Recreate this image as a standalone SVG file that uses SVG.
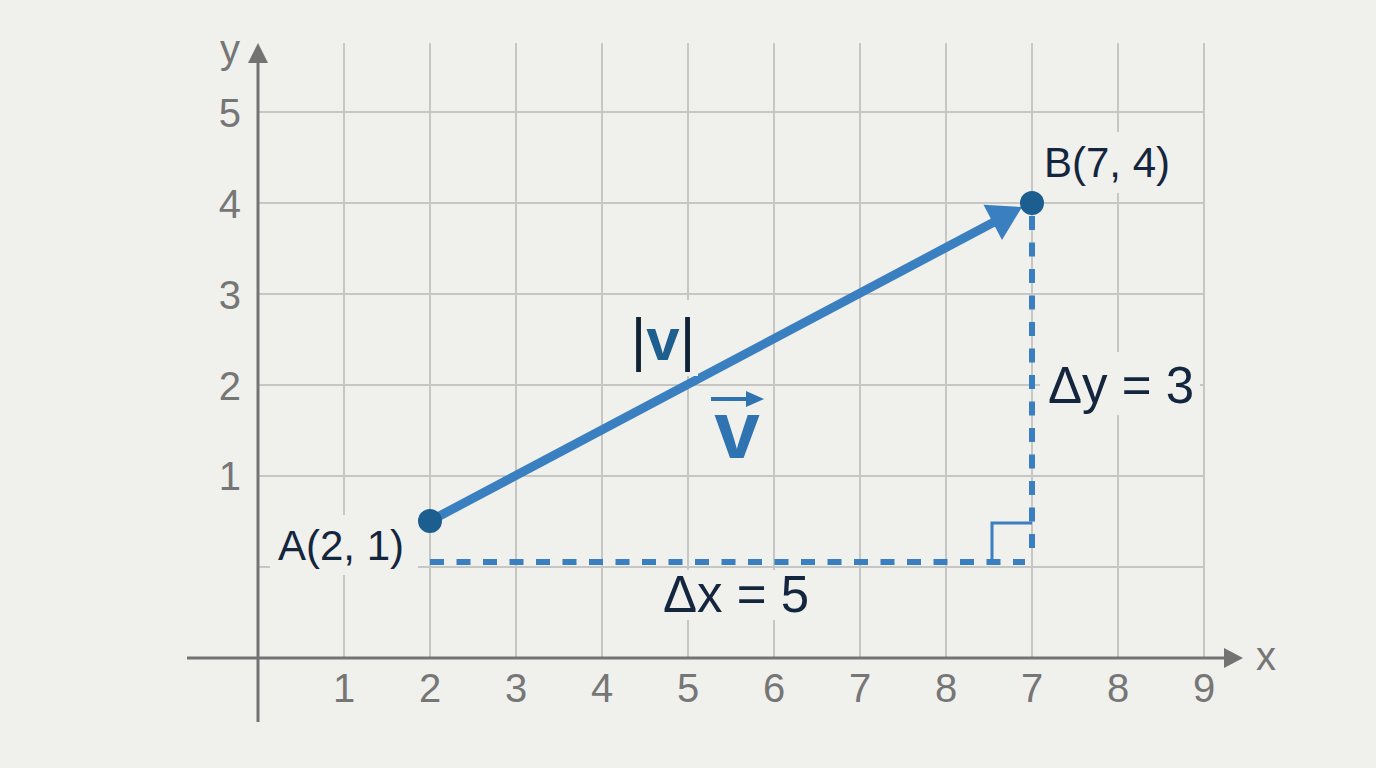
<svg xmlns="http://www.w3.org/2000/svg" width="1376" height="768" viewBox="0 0 1376 768">
<style>
.grid{stroke:#c6c6c4;stroke-width:2;fill:none}
.axis{stroke:#737373;stroke-width:3;fill:none}
.tick{font-family:"Liberation Sans",Arial,sans-serif;font-size:40px;fill:#767676}
.lbl{font-family:"Liberation Sans",Arial,sans-serif;fill:#14263d}
.bg{fill:#f0f0ed}
.dash{stroke:#3a7fc0;stroke-width:6;stroke-dasharray:14 12.5;fill:none}
.pt{fill:#1b5e8f}
</style>
<rect width="1376" height="768" fill="#f0f0ed"/>
<g id="grid" class="grid">
<path d="M344 43V658M430 43V658M516 43V658M602 43V658M688 43V658M774 43V658M860 43V658M946 43V658M1032 43V658M1118 43V658M1204 43V658"/>
<path d="M258 112H1204M258 203H1204M258 294H1204M258 385H1204M258 476H1204M258 567H1204"/>
</g>
<g id="axes">
<path class="axis" d="M258 722V60M187 658H1228"/>
<polygon points="258,43 248,63 268,63" fill="#737373"/>
<polygon points="1243,658 1224,648 1224,668" fill="#737373"/>
<text class="tick" x="240" y="63" text-anchor="end">y</text>
<text class="tick" x="1256" y="670">x</text>
</g>
<g id="ticks" class="tick" text-anchor="middle">
<text x="344" y="702">1</text><text x="430" y="702">2</text><text x="516" y="702">3</text><text x="602" y="702">4</text><text x="688" y="702">5</text><text x="774" y="702">6</text><text x="860" y="702">7</text><text x="946" y="702">8</text><text x="1032" y="702">7</text><text x="1118" y="702">8</text><text x="1204" y="702">9</text>
</g>
<g id="yticks" class="tick" text-anchor="end">
<text x="241" y="127">5</text><text x="241" y="218">4</text><text x="241" y="309">3</text><text x="241" y="400">2</text><text x="241" y="490">1</text>
</g>
<g id="connectors">
<path class="dash" d="M430 562H1025"/>
<path class="dash" d="M1032 216V553"/>
<path d="M992 562V523H1032" stroke="#3a7fc0" stroke-width="3" fill="none"/>
<line x1="430" y1="521" x2="996" y2="221" stroke="#3a7fc0" stroke-width="9"/>
<polygon points="1022,207 1002,240 983.5,204.7" fill="#3a7fc0"/>
</g>
<g id="node-A">
<rect class="bg" x="270" y="515" width="148" height="60"/>
<circle class="pt" cx="430" cy="521" r="12"/>
<text class="lbl" x="404" y="560" font-size="42" text-anchor="end">A(2, 1)</text>
</g>
<g id="node-B">
<rect class="bg" x="1040" y="132" width="136" height="61"/>
<circle class="pt" cx="1032" cy="203" r="12"/>
<text class="lbl" x="1044" y="177" font-size="42">B(7, 4)</text>
</g>
<g id="label-magnitude">
<rect class="bg" x="630" y="300" width="68" height="76"/>
<text x="663" y="360" font-size="60" text-anchor="middle" font-family="Liberation Sans,Arial,sans-serif"><tspan fill="#0f2236">|</tspan><tspan fill="#1f5f8f" font-weight="bold">v</tspan><tspan fill="#0f2236">|</tspan></text>
</g>
<g id="label-vector">
<line x1="711" y1="399" x2="750" y2="399" stroke="#2f73b0" stroke-width="4"/>
<polygon points="746,391 764,399 746,407" fill="#2f73b0"/>
<text x="737" y="458" font-size="82" font-weight="bold" text-anchor="middle" fill="#2f73b0" font-family="Liberation Sans,Arial,sans-serif">v</text>
</g>
<g id="label-dy">
<rect class="bg" x="1040" y="352" width="160" height="63"/>
<text class="lbl" x="1048" y="403" font-size="51">Δy = 3</text>
</g>
<g id="label-dx">
<rect class="bg" x="655" y="570" width="162" height="50"/>
<text class="lbl" x="736" y="612" font-size="51" text-anchor="middle">Δx = 5</text>
</g>
</svg>
